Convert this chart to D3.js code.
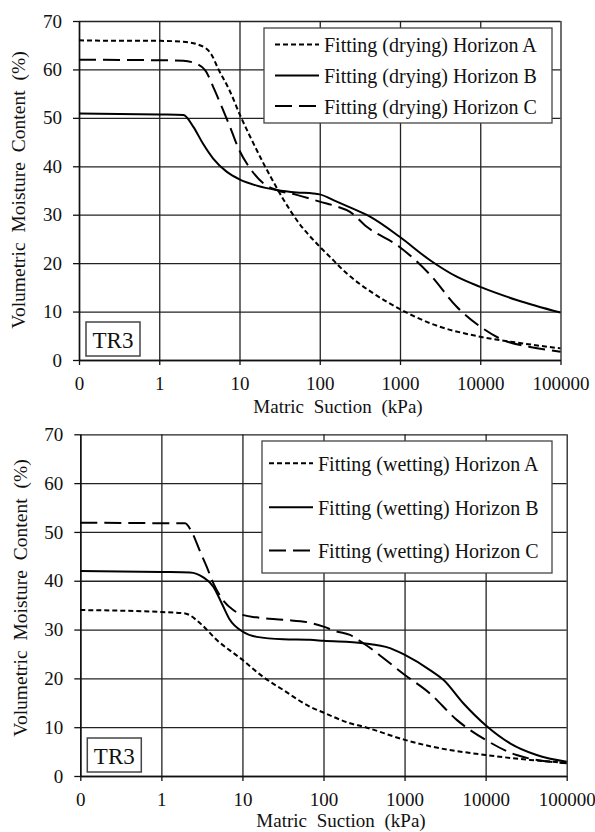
<!DOCTYPE html>
<html>
<head>
<meta charset="utf-8">
<script src="https://cdn.jsdelivr.net/npm/d3@7"></script>
<style>
  body { margin: 0; background: #fff; }
  text { font-family: "Liberation Serif", "Times New Roman", serif; fill: #111; }
</style>
</head>
<body>
<div id="chart"></div>
<script>
// axis ticks (0.1 kPa is labelled "0" on the original)
var suctionTicks = [0.1, 1, 10, 100, 1000, 10000, 100000];
var suctionLabels = ["0", "1", "10", "100", "1000", "10000", "100000"];
var moistureTicks = [0, 10, 20, 30, 40, 50, 60, 70];

// drying curves (kPa, %)
var dryA_x = [0.1, 0.5, 1, 2, 3.2, 4.5, 5.4, 7.6, 10.2, 13.5, 19.6, 26, 34.8, 51.6, 100, 134, 216, 461, 1000, 2366, 10000, 28400, 100000];
var dryA_y = [66, 65.9, 65.9, 65.7, 65, 63, 60.2, 55.5, 50.5, 46.2, 40.8, 37, 33.3, 28.9, 23.4, 21.3, 17.9, 13.8, 10.5, 7.6, 4.8, 3.6, 2.4];
var dryB_x = [0.1, 1, 2, 2.65, 3.5, 4.7, 6.9, 10, 16.4, 29, 51.6, 83, 100, 163, 238, 423, 980, 2370, 5090, 10000, 28400, 100000];
var dryB_y = [50.9, 50.7, 50.6, 48.2, 44.7, 41.6, 38.9, 37.3, 36, 35.1, 34.6, 34.4, 34.2, 32.7, 31.5, 29.6, 25.5, 20.6, 17.2, 15.1, 12.4, 9.8];
var dryC_x = [0.1, 1, 2, 2.54, 3.7, 4.7, 6.0, 7.6, 9.7, 13.5, 19.8, 29, 51.6, 100, 163, 238, 385, 980, 2370, 5090, 10000, 19400, 41700, 100000];
var dryC_y = [62, 61.9, 61.8, 61.5, 59.9, 56.4, 52.3, 48.2, 43.7, 39.6, 36.5, 35.1, 34.1, 32.7, 31.7, 30.6, 27.5, 23.4, 17.6, 11, 6.9, 4.1, 2.7, 1.7];

// wetting curves (kPa, %)
var wetA_x = [0.1, 1, 1.96, 3.0, 4.8, 10, 18, 32, 68, 100, 212, 310, 1010, 2060, 10000, 35200, 100000];
var wetA_y = [34, 33.6, 33.3, 31.3, 27.9, 23.8, 20.3, 17.6, 14.2, 13.0, 10.8, 10.1, 7.4, 6.1, 4.3, 3.3, 2.7];
var wetB_x = [0.1, 1, 2.25, 3.29, 4.37, 5.55, 7.0, 10, 15, 32, 68, 100, 310, 661, 1010, 2060, 3010, 5300, 10000, 20000, 42600, 100000];
var wetB_y = [42, 41.8, 41.7, 40.7, 38.8, 35.4, 32, 29.6, 28.5, 28, 27.9, 27.7, 27.2, 26.2, 24.8, 21.7, 19.7, 14.9, 10.4, 6.7, 4.3, 2.9];
var wetC_x = [0.1, 1, 1.96, 2.37, 3.0, 3.62, 4.37, 5.55, 7.7, 10, 15, 32, 68, 100, 139, 212, 310, 1010, 2060, 4400, 10000, 24100, 100000];
var wetC_y = [51.9, 51.8, 51.8, 50, 46, 42.9, 39.5, 36.4, 34, 33, 32.5, 32, 31.4, 30.6, 29.7, 28.9, 27.2, 20.7, 16.9, 11.5, 7.4, 4.3, 2.6];

var dryLabels = ["Fitting (drying) Horizon A", "Fitting (drying) Horizon B", "Fitting (drying) Horizon C"];
var wetLabels = ["Fitting (wetting) Horizon A", "Fitting (wetting) Horizon B", "Fitting (wetting) Horizon C"];

// line style per horizon
var dashes = ["5,3", null, "17,7"];

var svg = d3.select("#chart")
  .append("svg")
  .attr("width", 595)
  .attr("height", 832);

function drawPanel(p) {
  var x = d3.scaleLog().domain([0.1, 100000]).range([p.left, p.right]);
  var y = d3.scaleLinear().domain([0, 70]).range([p.bottom, p.top]);
  var h = p.bottom - p.top;
  var w = p.right - p.left;

  var g = svg.append("g");

  // grid lines
  g.append("g")
    .attr("transform", `translate(0, ${p.bottom})`)
    .call(d3.axisBottom(x).tickValues(suctionTicks).tickFormat("").tickSize(-h).tickSizeOuter(0))
    .call(a => a.select(".domain").remove())
    .selectAll("line").attr("stroke", "#222").attr("stroke-width", 1.3);

  g.append("g")
    .attr("transform", `translate(${p.left}, 0)`)
    .call(d3.axisLeft(y).tickValues(moistureTicks).tickFormat("").tickSize(-w).tickSizeOuter(0))
    .call(a => a.select(".domain").remove())
    .selectAll("line").attr("stroke", "#222").attr("stroke-width", 1.3);

  // axes with outward ticks and labels
  var xAxis = g.append("g")
    .attr("transform", `translate(0, ${p.bottom})`)
    .call(d3.axisBottom(x).tickValues(suctionTicks)
      .tickFormat((d, i) => suctionLabels[i]).tickSize(5).tickPadding(12).tickSizeOuter(0));
  xAxis.select(".domain").attr("stroke", "#111").attr("stroke-width", 1.5);
  xAxis.selectAll("line").attr("stroke", "#111").attr("stroke-width", 1.3);
  xAxis.selectAll("text")
    .attr("font-family", "Liberation Serif, serif")
    .attr("font-size", 19)
    .attr("fill", "#111");

  var yAxis = g.append("g")
    .attr("transform", `translate(${p.left}, 0)`)
    .call(d3.axisLeft(y).tickValues(moistureTicks).tickSize(6).tickPadding(11).tickSizeOuter(0));
  yAxis.select(".domain").attr("stroke", "#111").attr("stroke-width", 1.5);
  yAxis.selectAll("line").attr("stroke", "#111").attr("stroke-width", 1.3);
  yAxis.selectAll("text")
    .attr("font-family", "Liberation Serif, serif")
    .attr("font-size", 19)
    .attr("fill", "#111");

  // curves
  var line = d3.line()
    .x(d => x(d[0]))
    .y(d => y(d[1]))
    .curve(d3.curveMonotoneX);

  p.series.forEach(function(s, i) {
    g.append("path")
      .datum(d3.zip(s[0], s[1]))
      .attr("fill", "none")
      .attr("stroke", "#000")
      .attr("stroke-width", 2)
      .attr("stroke-dasharray", dashes[i])
      .attr("d", line);
  });

  // legend
  var lg = p.legend;
  g.append("rect")
    .attr("x", lg.x).attr("y", lg.y)
    .attr("width", lg.w).attr("height", lg.h)
    .attr("fill", "#fff")
    .attr("stroke", "#444")
    .attr("stroke-width", 1.3);

  p.labels.forEach(function(label, i) {
    var ly = lg.rows[i];
    g.append("line")
      .attr("x1", lg.lineX).attr("x2", lg.lineX + 44)
      .attr("y1", ly).attr("y2", ly)
      .attr("stroke", "#000")
      .attr("stroke-width", 2)
      .attr("stroke-dasharray", dashes[i]);
    g.append("text")
      .attr("x", lg.lineX + 49)
      .attr("y", ly + 7.5)
      .style("font-size", "20px")
      .text(label);
  });

  // TR3 tag
  g.append("rect")
    .attr("x", p.left + 7).attr("y", p.bottom - 38)
    .attr("width", 54).attr("height", 34)
    .attr("fill", "#fff")
    .attr("stroke", "#444")
    .attr("stroke-width", 1.5);
  g.append("text")
    .attr("x", p.left + 34).attr("y", p.bottom - 12)
    .attr("text-anchor", "middle")
    .style("font-size", "23px")
    .text("TR3");

  // axis titles
  g.append("text")
    .attr("x", p.xTitleX).attr("y", p.xTitleY)
    .attr("text-anchor", "middle")
    .style("font-size", "19px")
    .style("word-spacing", "5px")
    .text("Matric Suction (kPa)");

  g.append("text")
    .attr("transform", `translate(${p.yTitleX}, ${p.yTitleY}) rotate(-90)`)
    .attr("text-anchor", "middle")
    .style("font-size", "19.5px")
    .style("word-spacing", "5px")
    .text("Volumetric Moisture Content (%)");
}

drawPanel({
  left: 79, right: 560.5, top: 21, bottom: 360,
  series: [[dryA_x, dryA_y], [dryB_x, dryB_y], [dryC_x, dryC_y]],
  labels: dryLabels,
  legend: { x: 264, y: 28, w: 288, h: 95, lineX: 275, rows: [44.5, 75.5, 106] },
  xTitleX: 338, xTitleY: 413,
  yTitleX: 25, yTitleY: 190
});

drawPanel({
  left: 80.3, right: 566.7, top: 434.3, bottom: 776,
  series: [[wetA_x, wetA_y], [wetB_x, wetB_y], [wetC_x, wetC_y]],
  labels: wetLabels,
  legend: { x: 262, y: 441, w: 290, h: 132, lineX: 269, rows: [463.3, 507.3, 550.5] },
  xTitleX: 341, xTitleY: 827,
  yTitleX: 27, yTitleY: 598
});
</script>
</body>
</html>
